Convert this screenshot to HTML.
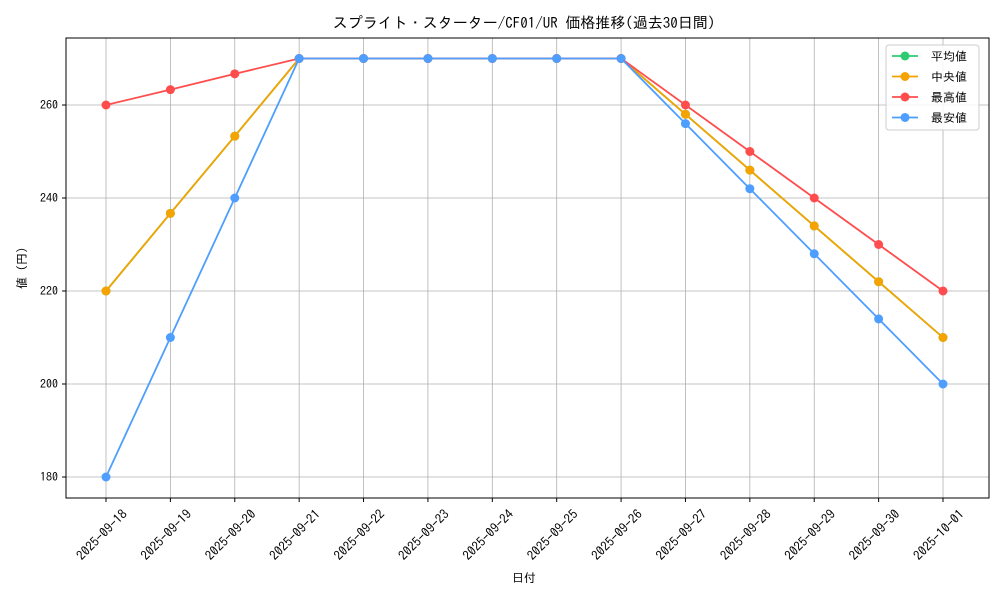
<!DOCTYPE html>
<html><head><meta charset="utf-8"><style>
body{margin:0;background:#fff}
svg text{font-family:"IPAGothic","Liberation Sans","Noto Sans CJK JP",sans-serif;fill:#000}
</style></head><body>
<svg id="c" width="1000" height="600" xmlns="http://www.w3.org/2000/svg">
<rect x="0" y="0" width="1000" height="600" fill="#fff"/>
<text x="524" y="28" font-size="15" text-anchor="middle">スプライト・スターター/CF01/UR 価格推移(過去30日間)</text>
<text x="524" y="582" font-size="12" text-anchor="middle">日付</text>
<text x="26" y="268" font-size="12" text-anchor="middle" transform="rotate(-90 26 268)">値 (円)</text>
<g id="grid"></g><g id="series"></g><g id="axes"></g>
</svg>
<script>
const dates=["2025-09-18","2025-09-19","2025-09-20","2025-09-21","2025-09-22","2025-09-23","2025-09-24","2025-09-25","2025-09-26","2025-09-27","2025-09-28","2025-09-29","2025-09-30","2025-10-01"];
const avgVals=[220,236.7,253.3,270,270,270,270,270,270,258,246,234,222,210];
const medVals=[220,236.7,253.3,270,270,270,270,270,270,258,246,234,222,210];
const maxVals=[260,263.3,266.7,270,270,270,270,270,270,260,250,240,230,220];
const minVals=[180,210,240,270,270,270,270,270,270,256,242,228,214,200];
const yTicks=[180,200,220,240,260];
const seriesNames=["平均値","中央値","最高値","最安値"];
const colors=["#2ecc71","#f5a300","#ff4d4d","#4d9eff"];
const NS="http://www.w3.org/2000/svg";
const L=66,R=989,T=38,B=498;
const xS=i=>106+i*(943-106)/(dates.length-1);
const yS=v=>477-(v-180)*(477-105)/80;
function mk(t,a,p){const e=document.createElementNS(NS,t);for(const k in a)e.setAttribute(k,a[k]);p.appendChild(e);return e;}
const grid=document.getElementById('grid'),axes=document.getElementById('axes'),ser=document.getElementById('series');
dates.forEach((d,i)=>{
 const g=mk('line',{x1:xS(i),x2:xS(i),y1:T,y2:B,stroke:'#b0b0b0','stroke-width':0.8},grid);
 
 
 mk('line',{x1:xS(i),x2:xS(i),y1:B,y2:B+4,stroke:'#000'},axes);
 const cx=xS(i)-1,cy=B+40;
 const t=mk('text',{x:cx,y:cy,'font-size':13,'text-anchor':'middle',transform:`rotate(-45 ${cx} ${cy})`},axes);
 t.textContent=d;
 
 
});
yTicks.forEach(v=>{
 const g=mk('line',{x1:L,x2:R,y1:yS(v),y2:yS(v),stroke:'#b0b0b0','stroke-width':0.8},grid);
 
 
 mk('line',{x1:L-4,x2:L,y1:yS(v),y2:yS(v),stroke:'#000'},axes);
 const t=mk('text',{x:L-8,y:yS(v)+4,'font-size':12,'text-anchor':'end'},axes);
 t.textContent=v;
 
 
});
const frame=mk('rect',{x:L,y:T,width:R-L,height:B-T,fill:'none',stroke:'#000','stroke-width':1},axes);


[avgVals,medVals,maxVals,minVals].forEach((vals,s)=>{
 const g=mk('g',{},ser);
 
 
 mk('polyline',{points:vals.map((v,i)=>xS(i)+','+yS(v)).join(' '),fill:'none',stroke:colors[s],'stroke-width':1.8},g);
 vals.forEach((v,i)=>{
  const c=mk('circle',{cx:xS(i),cy:yS(v),r:4.5,fill:colors[s]},g);
  
  
 });
});
const lg=mk('g',{},axes);


mk('rect',{x:886,y:45,width:93,height:85,rx:3,fill:'#fff','fill-opacity':0.85,stroke:'#ccc'},lg);
seriesNames.forEach((n,s)=>{
 const y=56+s*20.5;
 const e=mk('g',{},lg);
 
 
 mk('line',{x1:892,x2:918,y1:y,y2:y,stroke:colors[s],'stroke-width':1.8},e);
 mk('circle',{cx:905,cy:y,r:4.5,fill:colors[s]},e);
 const t=mk('text',{x:931,y:y+4.5,'font-size':12},e);
 t.textContent=n;
});
</script>
</body></html>
